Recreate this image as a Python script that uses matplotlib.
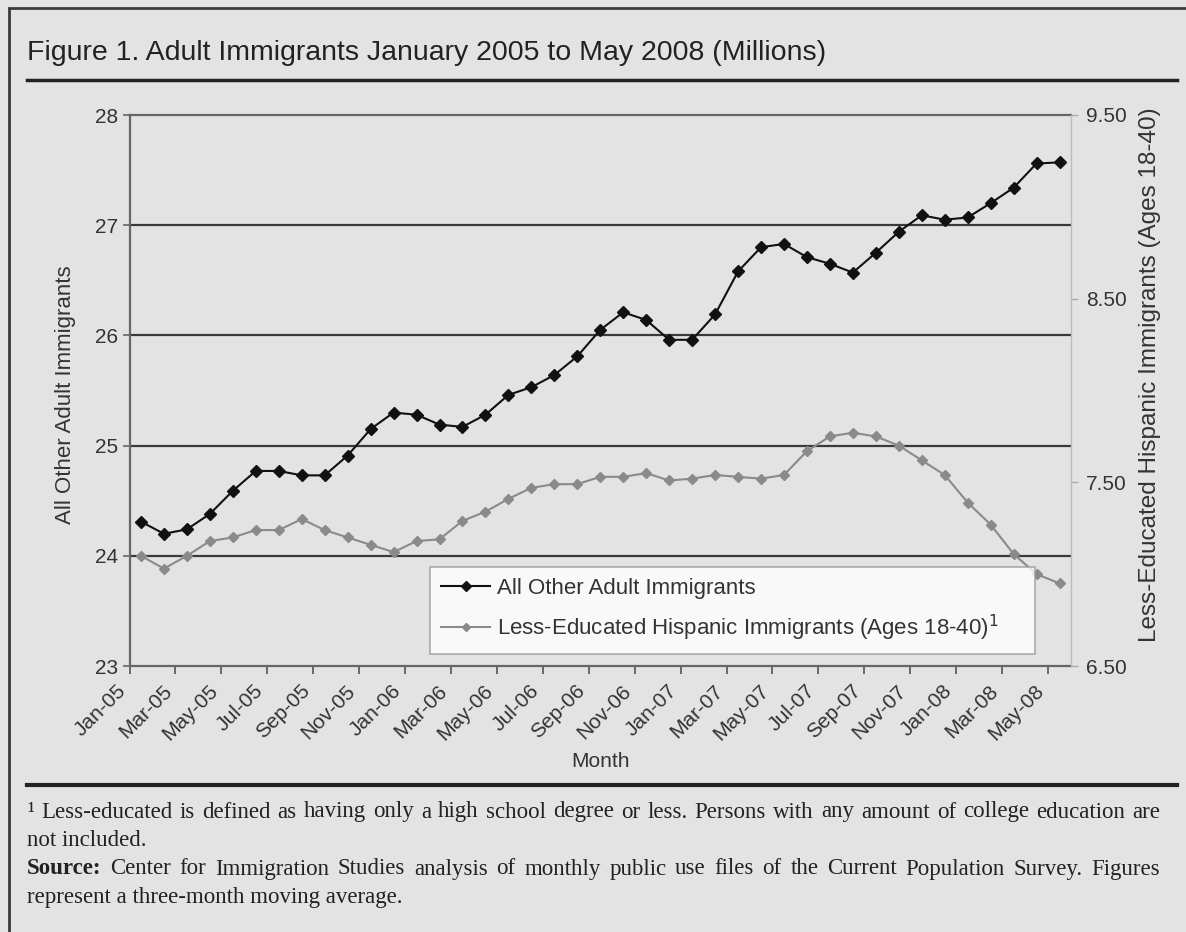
import matplotlib
matplotlib.use('Agg')
import matplotlib.pyplot as plt
from matplotlib.patches import Rectangle
from matplotlib.lines import Line2D

# monthly values, Jan-05 .. May-08 (41 months)
other_adult = [24.31, 24.20, 24.24, 24.38, 24.59, 24.77, 24.77, 24.73, 24.73, 24.91,
               25.15, 25.30, 25.28, 25.19, 25.17, 25.28, 25.46, 25.53, 25.64, 25.81,
               26.05, 26.21, 26.14, 25.96, 25.96, 26.19, 26.58, 26.80, 26.83, 26.71,
               26.65, 26.57, 26.75, 26.94, 27.09, 27.05, 27.07, 27.20, 27.34, 27.56, 27.57]
less_educated = [7.10, 7.03, 7.10, 7.18, 7.20, 7.24, 7.24, 7.30, 7.24, 7.20,
                 7.16, 7.12, 7.18, 7.19, 7.29, 7.34, 7.41, 7.47, 7.49, 7.49,
                 7.53, 7.53, 7.55, 7.51, 7.52, 7.54, 7.53, 7.52, 7.54, 7.67,
                 7.75, 7.77, 7.75, 7.70, 7.62, 7.54, 7.39, 7.27, 7.11, 7.00, 6.95]
tick_labels = ['Jan-05', 'Mar-05', 'May-05', 'Jul-05', 'Sep-05', 'Nov-05',
               'Jan-06', 'Mar-06', 'May-06', 'Jul-06', 'Sep-06', 'Nov-06',
               'Jan-07', 'Mar-07', 'May-07', 'Jul-07', 'Sep-07', 'Nov-07',
               'Jan-08', 'Mar-08', 'May-08']
left_ticks = [23, 24, 25, 26, 27, 28]
right_ticks = [6.5, 7.5, 8.5, 9.5]

BG = '#e3e3e3'
W, H = 1186, 932
SANS = ['Liberation Sans', 'DejaVu Sans']
SERIF = ['Liberation Serif', 'DejaVu Serif']

plt.rcParams['font.family'] = SANS
fig = plt.figure(figsize=(W / 100, H / 100), dpi=100, facecolor=BG)

def fx(px):
    return px / W

def fy(py):
    return 1 - py / H

# outer frame and rules
fig.add_artist(Rectangle((fx(9), -0.05), 1.1, fy(8) + 0.05, transform=fig.transFigure,
                         fill=False, ec='#3a3a3a', lw=2))
fig.text(fx(27), fy(53), 'Figure 1. Adult Immigrants January 2005 to May 2008 (Millions)',
         fontsize=20.5, color='#222222', va='center', ha='left')
fig.add_artist(Line2D([fx(27), fx(1177)], [fy(80), fy(80)], transform=fig.transFigure,
                      color='#222222', lw=2.5))
fig.add_artist(Line2D([fx(27), fx(1177)], [fy(785), fy(785)], transform=fig.transFigure,
                      color='#222222', lw=3))

ax = fig.add_axes([fx(129.5), fy(666), fx(1071) - fx(129.5), fy(115) - fy(666)])
ax.set_facecolor(BG)
x = list(range(len(other_adult)))

for v in left_ticks[1:-1]:
    ax.axhline(v, color='#3a3a3a', lw=1.6, zorder=1)

l1, = ax.plot(x, other_adult, color='#111111', lw=1.5, marker='D', ms=6,
              label='All Other Adult Immigrants', zorder=4)
ax.set_ylim(23, 28)
ax.set_xlim(-0.5, 40.5)
ax.set_yticks(left_ticks)
ax.set_yticklabels([str(v) for v in left_ticks], fontsize=15, color='#333333')
ax.tick_params(axis='y', length=5, width=1.2, color='#666666', pad=3)
ax.set_xticks([i * 2 - 0.5 for i in range(len(tick_labels))])
ax.set_xticklabels(tick_labels, rotation=45, ha='right', va='top', fontsize=15,
                   color='#333333', rotation_mode='default')
ax.tick_params(axis='x', length=6, width=1.2, color='#555555', pad=5)
ax.set_xlabel('Month', fontsize=15, color='#333333', labelpad=6)

for side in ['left', 'bottom', 'top']:
    ax.spines[side].set_color('#666666')
    ax.spines[side].set_linewidth(1.6)
ax.spines['right'].set_visible(False)

ax2 = ax.twinx()
l2, = ax2.plot(x, less_educated, color='#8a8a8a', lw=1.5, marker='D', ms=5,
               label='Less-Educated Hispanic Immigrants (Ages 18-40)$^1$', zorder=3)
ax2.set_ylim(6.5, 9.5)
ax2.set_yticks(right_ticks)
ax2.set_yticklabels(['%.2f' % v for v in right_ticks], fontsize=15, color='#333333')
ax2.tick_params(axis='y', length=5, width=1, color='#aaaaaa', pad=6)
for side in ['left', 'top', 'bottom']:
    ax2.spines[side].set_visible(False)
ax2.spines['right'].set_color('#bbbbbb')
ax2.spines['right'].set_linewidth(1)

fig.text(fx(65), fy(395), 'All Other Adult Immigrants', rotation=90, fontsize=16,
         color='#333333', ha='center', va='center')
fig.text(fx(1150), fy(375), 'Less-Educated Hispanic Immigrants (Ages 18-40)', rotation=90,
         fontsize=17.5, color='#333333', ha='center', va='center')

leg = fig.legend([l1, l2], [l1.get_label(), l2.get_label()],
                 loc='upper left', bbox_to_anchor=(fx(430), fy(648), fx(1035) - fx(430), fy(567) - fy(648)),
                 mode='expand', fontsize=16, frameon=True, fancybox=False,
                 handlelength=2.2, handletextpad=0.3, borderpad=0.5, labelspacing=0.6,
                 borderaxespad=0, markerscale=0.8)
leg.get_frame().set_edgecolor('#999999')
leg.get_frame().set_linewidth(1.2)
leg.get_frame().set_facecolor('white')
for t in leg.get_texts():
    t.set_color('#333333')

# footnotes, justified like the source
def justify_line(ypx, parts, size, x0=27, x1=1160):
    texts = [fig.text(fx(x0), fy(ypx), w, family=SERIF, fontsize=size, fontweight=wt,
                      color='#222222', va='center', ha='left') for w, wt in parts]
    fig.canvas.draw()
    r = fig.canvas.get_renderer()
    widths = [t.get_window_extent(r).width for t in texts]
    gap = (x1 - x0 - sum(widths)) / (len(texts) - 1)
    pos = x0
    for t, w in zip(texts, widths):
        t.set_x(fx(pos))
        pos += w + gap

FS = 16.5
line1 = '¹ Less-educated is defined as having only a high school degree or less.  Persons with any amount of college education are'
line3 = 'Center for Immigration Studies analysis of monthly public use files of the Current Population Survey.  Figures'
justify_line(812, [(w, 'normal') for w in line1.split()], FS)
fig.text(fx(27), fy(840), 'not included.', family=SERIF, fontsize=FS, color='#222222', va='center')
justify_line(869, [('Source:', 'bold')] + [(w, 'normal') for w in line3.split()], FS)
fig.text(fx(27), fy(898), 'represent a three-month moving average.', family=SERIF, fontsize=FS,
         color='#222222', va='center')

fig.savefig('out.png', dpi=100, facecolor=BG)
